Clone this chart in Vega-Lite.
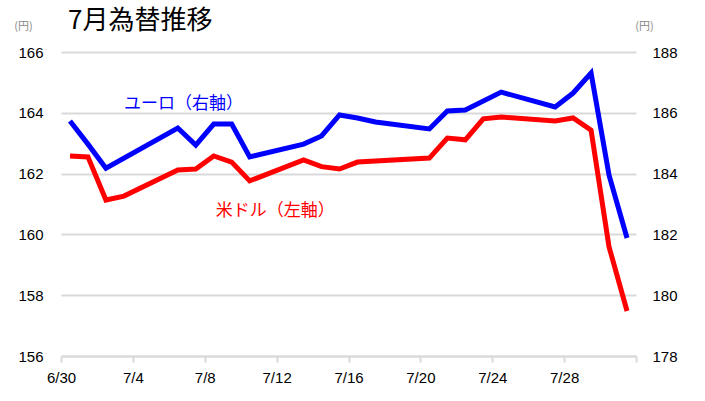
{
  "$schema": "https://vega.github.io/schema/vega-lite/v6.json",
  "width": 575,
  "height": 304,
  "autosize": "none",
  "padding": {"left": 61, "top": 52, "right": 69, "bottom": 45},
  "background": "#ffffff",
  "title": {
    "text": "7月為替推移",
    "anchor": "start",
    "frame": "group",
    "dx": 7,
    "offset": -14,
    "font": "Noto Sans CJK JP",
    "fontSize": 26,
    "fontWeight": "normal",
    "color": "#000000"
  },
  "config": {
    "view": {"stroke": null},
    "axis": {
      "labelFont": "Liberation Sans",
      "labelFontSize": 15,
      "labelColor": "#000000",
      "titleFont": "Noto Sans CJK JP",
      "titleFontWeight": "normal"
    }
  },
  "datasets": {
    "usd": [
      {"date": "2024-06-30", "rate": 162.58},
      {"date": "2024-07-01", "rate": 162.55},
      {"date": "2024-07-02", "rate": 161.13},
      {"date": "2024-07-03", "rate": 161.26},
      {"date": "2024-07-06", "rate": 162.12},
      {"date": "2024-07-07", "rate": 162.15},
      {"date": "2024-07-08", "rate": 162.58},
      {"date": "2024-07-09", "rate": 162.38},
      {"date": "2024-07-10", "rate": 161.76},
      {"date": "2024-07-13", "rate": 162.45},
      {"date": "2024-07-14", "rate": 162.23},
      {"date": "2024-07-15", "rate": 162.15},
      {"date": "2024-07-16", "rate": 162.38},
      {"date": "2024-07-20", "rate": 162.51},
      {"date": "2024-07-21", "rate": 163.17},
      {"date": "2024-07-22", "rate": 163.11},
      {"date": "2024-07-23", "rate": 163.8},
      {"date": "2024-07-24", "rate": 163.86},
      {"date": "2024-07-27", "rate": 163.73},
      {"date": "2024-07-28", "rate": 163.83},
      {"date": "2024-07-29", "rate": 163.43},
      {"date": "2024-07-30", "rate": 159.59},
      {"date": "2024-07-31", "rate": 157.48}
    ],
    "eur": [
      {"date": "2024-06-30", "rate": 185.73},
      {"date": "2024-07-01", "rate": 184.97},
      {"date": "2024-07-02", "rate": 184.18},
      {"date": "2024-07-06", "rate": 185.5},
      {"date": "2024-07-07", "rate": 184.94},
      {"date": "2024-07-08", "rate": 185.63},
      {"date": "2024-07-09", "rate": 185.63},
      {"date": "2024-07-10", "rate": 184.55},
      {"date": "2024-07-13", "rate": 184.97},
      {"date": "2024-07-14", "rate": 185.24},
      {"date": "2024-07-15", "rate": 185.93},
      {"date": "2024-07-16", "rate": 185.83},
      {"date": "2024-07-17", "rate": 185.7},
      {"date": "2024-07-20", "rate": 185.47},
      {"date": "2024-07-21", "rate": 186.06},
      {"date": "2024-07-22", "rate": 186.09},
      {"date": "2024-07-24", "rate": 186.68},
      {"date": "2024-07-27", "rate": 186.19},
      {"date": "2024-07-28", "rate": 186.65},
      {"date": "2024-07-29", "rate": 187.31},
      {"date": "2024-07-30", "rate": 183.95},
      {"date": "2024-07-31", "rate": 181.88}
    ],
    "usd_label": [{"date": "2024-07-08", "rate": 160.77, "label": "米ドル（左軸）"}],
    "eur_label": [{"date": "2024-07-03", "rate": 186.29, "label": "ユーロ（右軸）"}]
  },
  "encoding": {
    "x": {
      "field": "date",
      "type": "temporal",
      "timeUnit": "utcyearmonthdate",
      "bandPosition": 0.5,
      "scale": {
        "type": "utc",
        "domain": [
          {"year": 2024, "month": 6, "date": 30, "utc": true},
          {"year": 2024, "month": 8, "date": 1, "utc": true}
        ]
      },
      "axis": {
        "title": null,
        "values": [
          {"year": 2024, "month": 6, "date": 30, "utc": true},
          {"year": 2024, "month": 7, "date": 4, "utc": true},
          {"year": 2024, "month": 7, "date": 8, "utc": true},
          {"year": 2024, "month": 7, "date": 12, "utc": true},
          {"year": 2024, "month": 7, "date": 16, "utc": true},
          {"year": 2024, "month": 7, "date": 20, "utc": true},
          {"year": 2024, "month": 7, "date": 24, "utc": true},
          {"year": 2024, "month": 7, "date": 28, "utc": true},
          {"year": 2024, "month": 8, "date": 1, "utc": true}
        ],
        "labelExpr": "utcmonth(datum.value) == 7 ? '' : utcFormat(datum.value, '%-m/%-d')",
        "grid": false,
        "domainColor": "#d9d9d9",
        "domainWidth": 2,
        "tickColor": "#d9d9d9",
        "tickWidth": 2,
        "tickSize": 6,
        "labelPadding": 8,
        "labelFlush": false
      }
    }
  },
  "layer": [
    {
      "layer": [
        {
          "data": {"name": "usd"},
          "mark": {"type": "line", "color": "#ff0000", "strokeWidth": 5},
          "encoding": {
            "y": {
              "field": "rate",
              "type": "quantitative",
              "scale": {"domain": [156, 166], "nice": false, "zero": false},
              "axis": {
                "orient": "left",
                "values": [156, 158, 160, 162, 164, 166],
                "grid": true,
                "gridColor": "#d9d9d9",
                "gridWidth": 2,
                "domain": false,
                "ticks": false,
                "labelPadding": 18,
                "title": "(円)",
                "titleAngle": 0,
                "titleX": -38,
                "titleY": -26,
                "titleAlign": "center",
                "titleBaseline": "middle",
                "titleFontSize": 11,
                "titleColor": "#888888"
              }
            }
          }
        },
        {
          "data": {"name": "usd_label"},
          "mark": {"type": "text", "align": "left", "baseline": "middle", "font": "Noto Sans CJK JP", "fontSize": 17, "color": "#ff0000", "dx": 2},
          "encoding": {
            "y": {"field": "rate", "type": "quantitative"},
            "text": {"field": "label", "type": "nominal"}
          }
        }
      ]
    },
    {
      "layer": [
        {
          "data": {"name": "eur"},
          "mark": {"type": "line", "color": "#0000ff", "strokeWidth": 5},
          "encoding": {
            "y": {
              "field": "rate",
              "type": "quantitative",
              "scale": {"domain": [178, 188], "nice": false, "zero": false},
              "axis": {
                "orient": "right",
                "values": [178, 180, 182, 184, 186, 188],
                "grid": false,
                "domain": false,
                "ticks": false,
                "labelPadding": 16,
                "title": "(円)",
                "titleAngle": 0,
                "titleX": 8,
                "titleY": -26,
                "titleAlign": "center",
                "titleBaseline": "middle",
                "titleFontSize": 11,
                "titleColor": "#888888"
              }
            }
          }
        },
        {
          "data": {"name": "eur_label"},
          "mark": {"type": "text", "align": "left", "baseline": "middle", "font": "Noto Sans CJK JP", "fontSize": 17, "color": "#0000ff"},
          "encoding": {
            "y": {"field": "rate", "type": "quantitative"},
            "text": {"field": "label", "type": "nominal"}
          }
        }
      ]
    }
  ],
  "resolve": {"scale": {"y": "independent"}, "axis": {"y": "independent"}}
}
